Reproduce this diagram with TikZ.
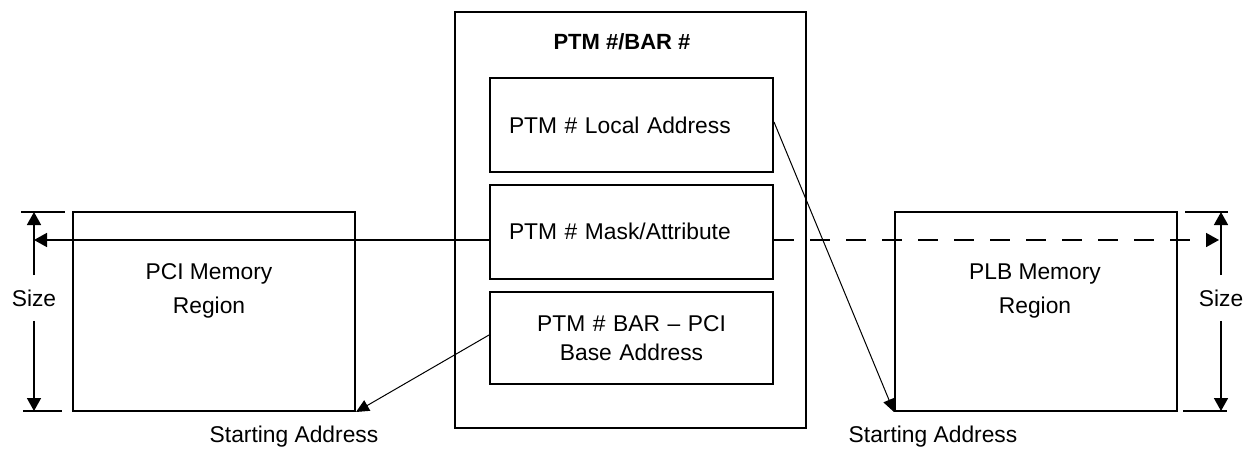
\documentclass[tikz,border=0pt]{standalone}
\usepackage{fontspec}
\setmainfont{Liberation Sans}
\usepackage{tikz}
\usetikzlibrary{positioning,arrows.meta}
\newcommand{\txtsize}{\fontsize{11.4}{14.5}\selectfont}
\tikzset{
  box/.style   ={draw, line width=1pt, font=\txtsize, minimum height=47pt,
                 text width=122.5pt, inner xsep=9.5pt, inner ysep=0pt, align=left},
  region/.style={draw, line width=1pt, minimum width=141pt, minimum height=99.5pt, inner sep=0pt},
  lbl/.style   ={font=\txtsize, align=center, inner sep=0pt},
  ar/.style    ={-{Triangle[length=6.5pt,width=7pt]}, line width=0.8pt},
  dar/.style   ={ar, dash pattern=on 10pt off 8pt},
  thar/.style  ={-{Triangle[length=6.5pt,width=6pt]}, line width=0.5pt},
  tick/.style  ={line width=0.8pt},
}

\begin{document}
\begin{tikzpicture}[x=0.5pt,y=-0.5pt]
\useasboundingbox (0,0) rectangle (1248,456);

% PTM register block
\node[draw, line width=1pt, minimum width=175.5pt, minimum height=208pt, inner sep=0pt] (ptm) at (630.5,220) {};
\node[lbl, font=\bfseries\fontsize{11}{13}\selectfont] (ttl) at (622,42) {PTM \#/BAR \#};
\node[box] (loc) at (631.5,125) {PTM \# Local Address};
\node[box] (mask) at (631.5,231.5) {PTM \# Mask/Attribute};
\node[box, minimum height=46pt, align=center] (bar) at (631.5,338) {PTM \# BAR -- PCI\\Base Address};

% memory regions
\node[region] (pci) at (214,311.5) {};
\node[lbl, font=\fontsize{11.4}{17}\selectfont] (pcitxt) at (209,291) {PCI Memory\\Region};
\node[region] (plb) at (1036,311.5) {};
\node[lbl, font=\fontsize{11.4}{17}\selectfont] (plbtxt) at (1035,291) {PLB Memory\\Region};

% size dimensions
\node[lbl, minimum height=22.5pt] (szl) at (34,298) {Size};
\node[lbl, minimum height=22.5pt] (szr) at (1221,298) {Size};
\coordinate (szlt) at (34,212);
\coordinate (szlb) at (34,411);
\coordinate (szrt) at (1221,212);
\coordinate (szrb) at (1221,411);
\draw[tick] (21,212) -- (65,212);
\draw[tick] (23,411) -- (62,411);
\draw[tick] (1185,212) -- (1228,212);
\draw[tick] (1183,411) -- (1227,411);
\draw[ar] (szl) -- (szlt);
\draw[ar] (szl) -- (szlb);
\draw[ar] (szr) -- (szrt);
\draw[ar] (szr) -- (szrb);

% mask lines
\draw[ar] ([yshift=-4.25pt]mask.west) -- ([yshift=-4.25pt]mask.west -| szl);
\draw[dar] ([yshift=-4.25pt]mask.east) -- ([yshift=-4.25pt, xshift=-1pt]mask.east -| szr);

% starting addresses
\draw[thar] ([yshift=1.5pt]loc.east) -- (plb.south west);
\draw[thar] ([yshift=1.5pt]bar.west) -- (pci.south east);
\node[lbl] (stl) at (294,437) {Starting Address};
\node[lbl] (str) at (933,437) {Starting Address};
\end{tikzpicture}
\end{document}
